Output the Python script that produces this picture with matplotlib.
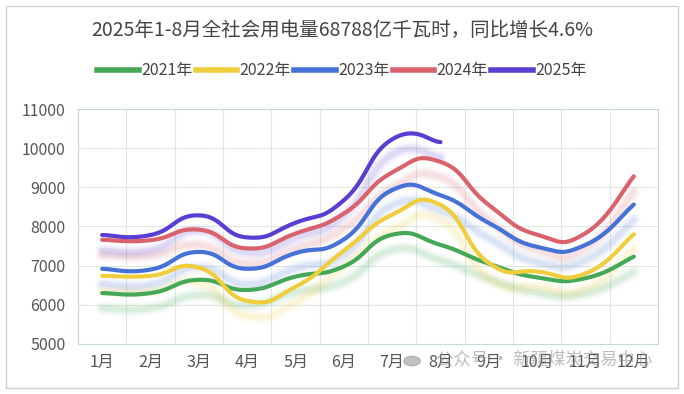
import numpy as np
import matplotlib
matplotlib.use('Agg')
import matplotlib.pyplot as plt
import matplotlib.transforms as mtransforms
from matplotlib.lines import Line2D
from matplotlib.patches import Rectangle, Circle

plt.rcParams['font.family'] = ['Noto Sans CJK SC', 'DejaVu Sans']

# datos
meses = ['1月', '2月', '3月', '4月', '5月', '6月', '7月', '8月', '9月', '10月', '11月', '12月']
anios = ['2021年', '2022年', '2023年', '2024年', '2025年']
y2021 = [6300, 6300, 6640, 6380, 6720, 6980, 7790, 7530, 7050, 6700, 6680, 7230]
y2022 = [6740, 6740, 6950, 6100, 6460, 7380, 8300, 8550, 7070, 6850, 6800, 7800]
y2023 = [6920, 6900, 7350, 6920, 7320, 7670, 8930, 8800, 8090, 7480, 7530, 8560]
y2024 = [7660, 7650, 7920, 7440, 7820, 8330, 9380, 9650, 8550, 7790, 7830, 9280]
y2025 = [7782, 7782, 8284, 7721, 8096, 8670, 10226, 10154]
series = [y2021, y2022, y2023, y2024, y2025]
colores = ['#45a857', '#f0cd3c', '#4572d6', '#da626c', '#5a3dd2']

titulo = '2025年1-8月全社会用电量68788亿千瓦时，同比增长4.6%'


def suavizar(x, y, smooth=0.5, n=30):
    """Bezier cubica; puntos de control = p +- smooth*(sig-ant)/2."""
    px = np.asarray(x, float)
    py = np.asarray(y, float)
    m = len(px)
    xs, ys = [], []
    t = np.linspace(0, 1, n)[:, None]
    def ctrl(i):
        prv = max(i - 1, 0)
        nxt = min(i + 1, m - 1)
        return np.array([px[nxt] - px[prv], py[nxt] - py[prv]]) * smooth * 0.5
    for i in range(m - 1):
        p0 = np.array([px[i], py[i]])
        p3 = np.array([px[i + 1], py[i + 1]])
        p1 = p0 + ctrl(i)
        p2 = p3 - ctrl(i + 1)
        b = (1 - t) ** 3 * p0 + 3 * (1 - t) ** 2 * t * p1 + 3 * (1 - t) * t ** 2 * p2 + t ** 3 * p3
        xs.append(b[:, 0])
        ys.append(b[:, 1])
    return np.concatenate(xs), np.concatenate(ys)


fig = plt.figure(figsize=(6.84, 3.94), dpi=100)
ax = fig.add_axes([78 / 684, 50 / 394, 580 / 684, 235 / 394])

# marco exterior
fig.patches.append(Rectangle((6 / 684, 6 / 394), 672 / 684, 382 / 394, transform=fig.transFigure,
                             fill=False, edgecolor='#d0d0d0', lw=1))

sombra = mtransforms.offset_copy(ax.transData, fig=fig, x=0, y=-11, units='points')
for vals, col in zip(series, colores):
    xs, ys = suavizar(range(len(vals)), vals)
    for lw, a in ((10, 0.04), (7, 0.06), (4, 0.1)):
        ax.plot(xs, ys, color=col, lw=lw, alpha=a, transform=sombra, solid_capstyle='round', zorder=2)
for vals, col in zip(series, colores):
    xs, ys = suavizar(range(len(vals)), vals)
    ax.plot(xs, ys, color=col, lw=3, solid_capstyle='round', zorder=3)

ax.set_xlim(-0.5, 11.5)
ax.set_ylim(5000, 11000)
ax.set_yticks(range(5000, 11001, 1000))
ax.set_xticks(range(12))
ax.set_xticklabels(meses)
ax.set_xticks(np.arange(-0.5, 11.6, 0.5), minor=True)
ax.tick_params(which='both', length=0)
ax.tick_params(axis='x', labelsize=11.5, colors='#555555', pad=7)
ax.tick_params(axis='y', labelsize=11.5, colors='#555555', pad=9)
ax.grid(True, which='minor', axis='x', color='#dfe9e2', lw=0.8)
ax.grid(True, which='major', axis='y', color='#dfe9e2', lw=0.8)
ax.set_axisbelow(True)
for s in ax.spines.values():
    s.set_color('#c5dccb')
    s.set_linewidth(0.8)

fig.text(0.5, 1 - 31 / 394, titulo, ha='center', va='center', fontsize=14, color='#444444')

handles = [Line2D([0], [0], color=c, lw=4) for c in colores]
fig.legend(handles, anios, loc='center', bbox_to_anchor=(0.5, 1 - 71 / 394), ncol=5, frameon=False,
           fontsize=11.5, handlelength=2.6, handletextpad=0.15, columnspacing=0.2, labelcolor='#444444')

# marca de agua
fig.patches.append(Circle((412 / 684, 1 - 361 / 394), 0.012, transform=fig.transFigure,
                          color='#9a9a9a', alpha=0.6))
fig.text(436 / 684, 1 - 359 / 394, '公众号 · 新疆煤炭交易中心', ha='left', va='center',
         fontsize=12.5, color='#888888', alpha=0.55)

fig.savefig('out.png', dpi=100)
